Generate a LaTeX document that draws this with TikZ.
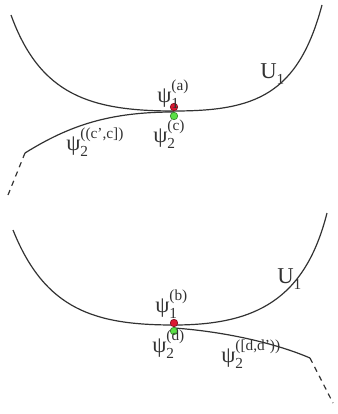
\documentclass[tikz,border=0pt]{standalone}
\usepackage{fontspec}
\setmainfont{Liberation Serif}
\definecolor{curve}{RGB}{50,50,50}
\definecolor{ruby}{RGB}{220,25,50}
\definecolor{lime}{RGB}{90,225,70}
\newcommand\wf[2]{ψ\rlap{\raisebox{-0.6ex}{\fontsize{11.5}{11.5}\selectfont #1}}\raisebox{1.15ex}{\fontsize{11.5}{11.5}\selectfont #2}}
\tikzset{
  wave/.style={draw=curve,line width=0.9pt},
  tail/.style={wave,dash pattern=on 4pt off 3.5pt},
  dot/.style={circle,draw=#1!60!black,fill=#1,inner sep=0pt,minimum size=5.6pt,line width=0.5pt},
  lbl/.style={font=\fontsize{17}{17}\selectfont,anchor=west,inner sep=0pt,text=curve},
}
\begin{document}
\begin{tikzpicture}[x=0.75pt,y=-0.75pt]
  \useasboundingbox (0,0) rectangle (337,414);
  % upper sketch: psi_2 approaching from the left
  \draw[wave] (11,15) .. controls (40,95) and (90,111) .. (174,111)
    .. controls (255,111) and (298,95) .. (322,5);
  \draw[wave] (174,112) .. controls (110,112) and (70,125) .. (25,153);
  \draw[tail] (25,153) -- (8,195);
  \node[dot=lime] (c) at (174,116) {};
  \node[dot=ruby] (a) at (174,107) {};
  \node[lbl] (la) at (157,94) {\wf{1}{(a)}};
  \node[lbl] (lc) at (153,134) {\wf{2}{(c)}};
  \node[lbl] (lcc) at (66,142) {\wf{2}{((c',c])}};
  \node[lbl] (u1) at (260,74) {U\raisebox{-0.5ex}{\fontsize{11.5}{11.5}\selectfont 1}};
  % lower sketch: psi_2 leaving to the right
  \draw[wave] (13,230) .. controls (45,310) and (95,325) .. (174,325)
    .. controls (255,325) and (305,300) .. (327,213);
  \draw[wave] (174,328) .. controls (230,332) and (280,345) .. (310,358);
  \draw[tail] (310,358) -- (333,403);
  \node[dot=lime] (d) at (174,331) {};
  \node[dot=ruby] (b) at (174,323) {};
  \node[lbl] (lb) at (155,304) {\wf{1}{(b)}};
  \node[lbl] (ld) at (152,344) {\wf{2}{(d)}};
  \node[lbl] (ldd) at (221,354) {\wf{2}{([d,d'))}};
  \node[lbl] (u2) at (277,279) {U\raisebox{-0.5ex}{\fontsize{11.5}{11.5}\selectfont 1}};
\end{tikzpicture}
\end{document}
